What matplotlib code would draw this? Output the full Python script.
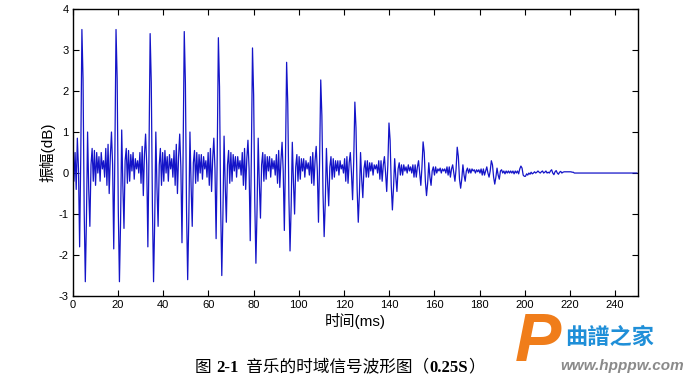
import numpy as np
import matplotlib.pyplot as plt

plt.rcParams['font.family'] = ['Liberation Sans', 'Noto Sans CJK SC', 'DejaVu Sans']
plt.rcParams['axes.unicode_minus'] = False

# waveform samples, one row per pitch period (spike at index 8 of every row)
dt = 15.1 / 30  # ms per sample
wave_rows = [
    [0.3, -0.2, 0.5, -0.4, 0.85, 0.1, -1.8, 0.4, 3.5, 2.3, -0.9, -2.65, -1.1, 1.0, -0.4, -1.3, 0.2, 0.6, -0.2, 0.55, -0.3, 0.5, 0.0, 0.4, -0.2, 0.5, 0.1, 0.3, -0.1, 0.6],
    [-0.3, 0.7, -0.5, 0.4, 1.0, 0.2, -1.85, 0.5, 3.5, 2.3, -0.9, -2.65, -1.2, 1.05, -0.3, -1.35, 0.3, 0.6, -0.25, 0.55, -0.2, 0.45, 0.05, 0.5, -0.15, 0.35, 0.1, 0.3, 0.0, 0.5],
    [-0.25, 0.65, -0.55, 0.45, 0.95, 0.2, -1.8, 0.5, 3.4, 2.2, -0.8, -2.65, -1.2, 1.0, -0.35, -1.3, 0.2, 0.6, -0.3, 0.5, -0.2, 0.55, 0.0, 0.4, -0.2, 0.45, 0.1, 0.35, -0.1, 0.55],
    [-0.3, 0.7, -0.5, 0.4, 0.95, 0.15, -1.7, 0.5, 3.45, 2.2, -0.9, -2.6, -1.1, 1.0, -0.3, -1.3, 0.25, 0.55, -0.25, 0.5, -0.2, 0.45, 0.0, 0.45, -0.15, 0.4, 0.1, 0.3, -0.1, 0.5],
    [-0.3, 0.6, -0.45, 0.35, 0.85, 0.1, -1.6, 0.45, 3.3, 2.1, -0.8, -2.5, -1.0, 0.9, -0.3, -1.2, 0.2, 0.55, -0.25, 0.5, -0.2, 0.45, 0.05, 0.4, -0.1, 0.4, 0.1, 0.3, -0.05, 0.5],
    [-0.3, 0.6, -0.4, 0.35, 0.8, 0.1, -1.65, 0.4, 3.05, 1.9, -0.7, -2.2, -0.9, 0.85, -0.25, -1.1, 0.2, 0.5, -0.2, 0.45, -0.15, 0.4, 0.05, 0.4, -0.1, 0.35, 0.1, 0.3, -0.05, 0.45],
    [-0.25, 0.55, -0.35, 0.3, 0.75, 0.05, -1.4, 0.35, 2.7, 1.7, -0.6, -1.9, -0.8, 0.75, -0.2, -1.0, 0.15, 0.45, -0.2, 0.4, -0.15, 0.35, 0.05, 0.35, -0.1, 0.3, 0.1, 0.25, -0.05, 0.4],
    [-0.25, 0.5, -0.3, 0.3, 0.65, 0.05, -1.2, 0.3, 2.27, 1.4, -0.5, -1.55, -0.7, 0.6, -0.2, -0.8, 0.15, 0.4, -0.15, 0.35, -0.1, 0.3, 0.05, 0.3, -0.05, 0.3, 0.1, 0.2, 0.0, 0.35],
    [-0.2, 0.4, -0.25, 0.25, 0.5, 0.0, -0.65, 0.3, 1.73, 1.1, -0.4, -1.2, -0.5, 0.5, -0.15, -0.6, 0.1, 0.3, -0.1, 0.3, -0.1, 0.25, 0.05, 0.25, -0.05, 0.2, 0.1, 0.2, 0.0, 0.3],
    [-0.15, 0.3, -0.2, 0.2, 0.4, 0.0, -0.45, 0.2, 1.22, 0.8, -0.3, -0.9, -0.35, 0.35, -0.1, -0.45, 0.1, 0.25, -0.05, 0.2, -0.05, 0.2, 0.05, 0.15, 0.0, 0.2, 0.05, 0.15, 0.0, 0.2],
    [-0.1, 0.2, -0.1, 0.15, 0.3, 0.0, -0.3, 0.15, 0.76, 0.5, -0.2, -0.55, -0.25, 0.25, -0.1, -0.3, 0.05, 0.15, -0.05, 0.15, 0.0, 0.1, 0.05, 0.12, 0.0, 0.1, 0.05, 0.1, 0.0, 0.15],
    [-0.05, 0.15, -0.1, 0.1, 0.2, 0.0, -0.2, 0.1, 0.63, 0.4, -0.15, -0.37, -0.15, 0.2, -0.05, -0.2, 0.05, 0.12, 0.0, 0.1, 0.0, 0.1, 0.05, 0.08, 0.0, 0.08, 0.03, 0.08, 0.0, 0.1],
    [-0.05, 0.1, -0.05, 0.05, 0.15, 0.0, -0.1, 0.05, 0.3, 0.2, -0.1, -0.27, -0.1, 0.12, -0.05, -0.15, 0.05, 0.08, 0.0, 0.05, -0.02, 0.05, 0.0, 0.05, 0.0, 0.05, 0.0, 0.05, -0.02, 0.05],
    [0.0, 0.05, -0.02, 0.1, 0.17, 0.12, -0.05, -0.08, -0.08, -0.02, -0.05, 0.0, -0.03, 0.02, -0.02, 0.0, 0.03, 0.0, 0.02, 0.05, 0.02, 0.0, 0.03, 0.05, 0.0, 0.02, 0.05, 0.0, 0.02, 0.0],
    [0.05, 0.08, 0.0, -0.04, 0.03, 0.06, 0.0, -0.03, 0.02, 0.04, 0.0, 0.02, 0.03, 0.03, 0.03, 0.03, 0.03, 0.03, 0.03, 0.02, 0.02, 0.0, 0.0, 0.0, 0.0, 0.0, 0.0, 0.0, 0.0, 0.0],
]
t_end = 250  # ms, signal is silent after the last row

# caption pieces: (text, bold)
caption = [('图 ', False), ('2-1', True), ('  音乐的时域信号波形图（', False), ('0.25S', True), ('）', False)]

amp = np.concatenate(wave_rows)
n_total = int(t_end / dt) + 1
amp = np.concatenate([amp, np.zeros(n_total - len(amp))])
t = np.arange(len(amp)) * dt

fig = plt.figure(figsize=(7, 3.83), dpi=100)
ax = fig.add_axes([0.104, 0.227, 0.807, 0.7495])
ax.plot(t, amp, color='#1414c8', lw=0.9)

ax.set_xlim(0, 250)
ax.set_ylim(-3, 4)
ax.set_xticks(np.arange(0, 241, 20))
ax.set_yticks(np.arange(-3, 5, 1))
ax.tick_params(direction='in', top=True, right=True, length=4, width=0.8, labelsize=8, pad=3)
for s in ax.spines.values():
    s.set_linewidth(1.0)

ax.set_xlabel('时间(ms)', fontsize=11, labelpad=2)
ax.set_ylabel('振幅(dB)', fontsize=11, labelpad=2)

# caption, laid out piece by piece so the numbers can be bold
renderer = fig.canvas.get_renderer()
pieces = []
for txt, bold in caption:
    p = fig.text(0, 0.04, txt, ha='left', va='center', fontsize=12,
                 fontweight='bold' if bold else 'normal',
                 family=['Liberation Serif', 'Noto Sans CJK SC'])
    pieces.append(p)
widths = [p.get_window_extent(renderer).width for p in pieces]
x = 340 - sum(widths) / 2
for p, w in zip(pieces, widths):
    p.set_x(x / fig.bbox.width)
    x += w

# watermark
fig.text(0.735, 0.02, 'P', fontsize=50, color='#f07d1a', fontweight='bold', style='italic',
         family='Liberation Sans', ha='left', va='bottom')
fig.text(0.808, 0.12, '曲譜之家', fontsize=16, color='#1f8fd8', fontweight='bold',
         family='Noto Sans CJK TC', ha='left', va='center')
fig.text(0.8, 0.045, 'www.hpppw.com', fontsize=11, color='#8a8a8a', fontweight='bold', style='italic',
         family='Liberation Sans', ha='left', va='center')

fig.savefig('out.png', dpi=100)
